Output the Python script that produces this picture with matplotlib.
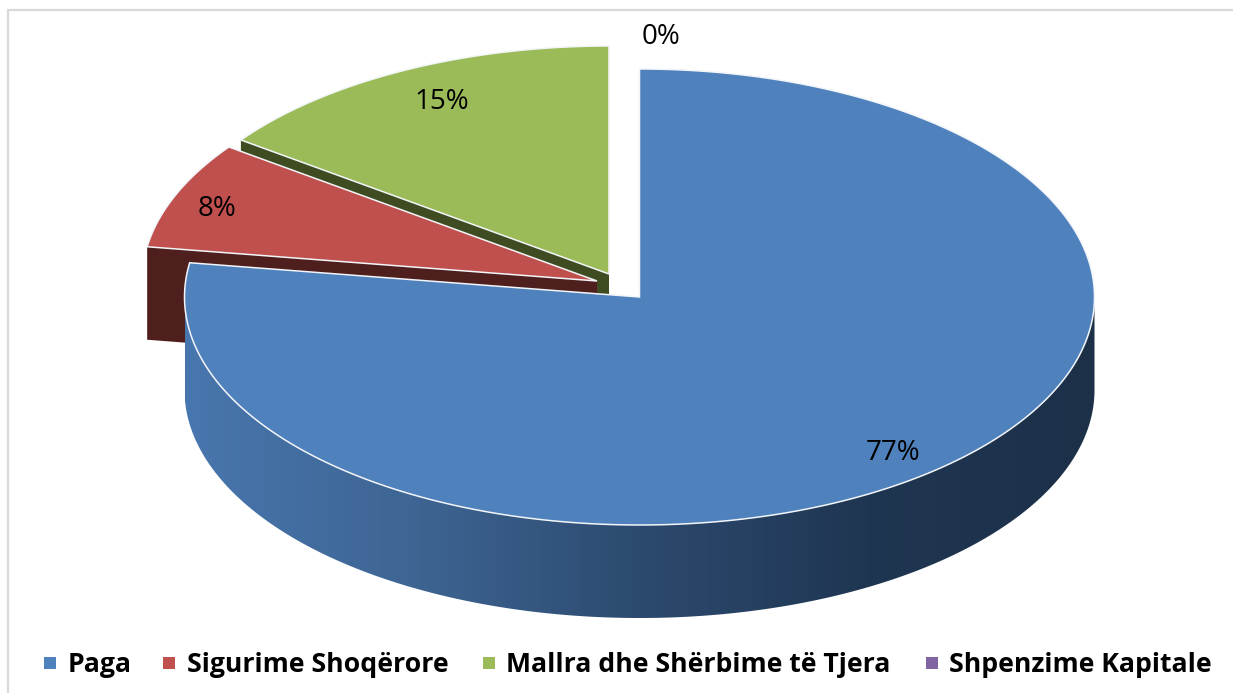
import numpy as np
from matplotlib import pyplot as plt
from matplotlib.patches import Polygon
from matplotlib.colors import LinearSegmentedColormap

labels = ['Paga', 'Sigurime Shoqërore', 'Mallra dhe Shërbime të Tjera', 'Shpenzime Kapitale']
values = [77.4, 7.6, 15.0, 0.0]
colors = ['#4f81bd', '#c0504d', '#9bbb59', '#8064a2']
wall_colors = ['#1f3550', '#4f1f1e', '#3f4c22', '#3f3252']

# centre of every slice on the page, pixels (slices are exploded)
centres = [(639.5, 297), (597, 281), (609, 274), (639.5, 297)]
rx, ry = 455, 228
depth = 93

label_pos = [(893, 453), (217, 209), (442, 102), (661, 37)]
legend_marker_x = [44, 163, 483, 926]
legend_text_x = [68, 187, 506, 949]
legend_y = 663

plt.rcParams['font.family'] = ['Open Sans', 'DejaVu Sans']

fig = plt.figure(figsize=(12.33, 6.93), dpi=100, facecolor='white')
ax = fig.add_axes([0, 0, 1, 1])
ax.set_xlim(0, 1233)
ax.set_ylim(693, 0)
ax.axis('off')

# grey frame, only top and left are visible
ax.plot([7.5, 7.5, 1233], [693, 9.5, 9.5], color='#d9d9d9', lw=1.6, zorder=1, solid_joinstyle='miter')


def rim(cx, cy, ang):
    a = np.radians(ang)
    return cx + rx * np.cos(a), cy - ry * np.sin(a)


# start at 12 o'clock and go clockwise
stops = 90 - np.cumsum([0] + values) * 3.6
z = {2: 2, 1: 4, 0: 6}
for i in [2, 1, 0]:
    cx, cy = centres[i]
    a0, a1 = stops[i], stops[i + 1]
    xe, ye = rim(cx, cy, a0)
    # cut face below the slice, on the edge that faces the viewer
    wall = [(cx, cy), (xe, ye), (xe, ye + depth), (cx, cy + depth)]
    ax.add_patch(Polygon(wall, closed=True, fc=wall_colors[i], ec='none', zorder=z[i]))
    t = np.linspace(a0, a1, 300)
    xs, ys = rim(cx, cy, t)
    top = np.column_stack([np.r_[cx, xs], np.r_[cy, ys]])
    ax.add_patch(Polygon(top, closed=True, fc=colors[i], ec='#f2f5f9', lw=1.1, zorder=z[i] + 1,
                         joinstyle='miter'))

# outer wall of the big slice with the left-to-right shading
cx, cy = centres[0]
t = np.linspace(180, 360, 300)
xs, ys = rim(cx, cy, t)
outline = np.r_[np.column_stack([xs, ys]), np.column_stack([xs[::-1], ys[::-1] + depth])]
cmap = LinearSegmentedColormap.from_list('wall', [(0, '#4876ae'), (0.25, '#3e6593'), (0.5, '#2c4a6f'),
                                                  (0.75, '#1f3652'), (1, '#1c3048')])
grad = np.linspace(0, 1, 512).reshape(1, -1)
im = ax.imshow(grad, cmap=cmap, extent=[cx - rx, cx + rx, cy + ry + depth, cy - ry], aspect='auto', zorder=5)
clip = Polygon(outline, closed=True, transform=ax.transData, fc='none', ec='none')
ax.add_patch(clip)
im.set_clip_path(clip)
ax.set_xlim(0, 1233)
ax.set_ylim(693, 0)

for v, (x, y) in zip(values, label_pos):
    ax.text(x, y, '%d%%' % round(v), fontsize=20, ha='center', va='center', color='black', zorder=10)

for c, mx, tx, s in zip(colors, legend_marker_x, legend_text_x, labels):
    ax.add_patch(Polygon([(mx, legend_y - 6), (mx + 12, legend_y - 6), (mx + 12, legend_y + 6), (mx, legend_y + 6)],
                         closed=True, fc=c, ec='none', zorder=10))
    ax.text(tx, legend_y + 2, s, fontsize=19.2, fontweight='bold', ha='left', va='center', color='black', zorder=10)

fig.savefig('out.png', dpi=100)
